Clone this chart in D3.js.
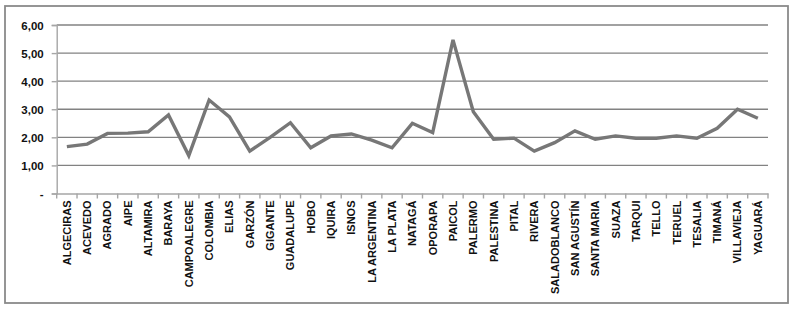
<!DOCTYPE html>
<html><head><meta charset="utf-8">
<script src="https://cdn.jsdelivr.net/npm/d3@7"></script>
<style>body{margin:0;background:#fff}svg{display:block}</style>
</head><body>
<svg id="c" width="794" height="310"></svg>
<script>
const categories = ["ALGECIRAS","ACEVEDO","AGRADO","AIPE","ALTAMIRA","BARAYA","CAMPOALEGRE","COLOMBIA","ELIAS","GARZÓN","GIGANTE","GUADALUPE","HOBO","IQUIRA","ISNOS","LA ARGENTINA","LA PLATA","NATAGÁ","OPORAPA","PAICOL","PALERMO","PALESTINA","PITAL","RIVERA","SALADOBLANCO","SAN AGUSTÍN","SANTA MARIA","SUAZA","TARQUI","TELLO","TERUEL","TESALIA","TIMANÁ","VILLAVIEJA","YAGUARÁ"];
const values = [1.67,1.76,2.14,2.15,2.2,2.8,1.35,3.33,2.73,1.51,2.0,2.52,1.63,2.05,2.12,1.9,1.63,2.5,2.17,5.47,2.91,1.93,1.97,1.51,1.81,2.23,1.93,2.05,1.97,1.97,2.05,1.97,2.32,3.0,2.68];
const yTicks = [0,1,2,3,4,5,6];
const yTickLabels = ["-","1,00","2,00","3,00","4,00","5,00","6,00"];

const svg = d3.select("#c");
const L = 56.7, R = 768, T = 25, B = 193.5;
const x = d3.scaleBand().domain(categories).range([L, R]);
const y = d3.scaleLinear().domain([0, 6]).range([B, T]);
const font = "'Liberation Sans', Arial, sans-serif";

// outer border
svg.append("rect").attr("x",5).attr("y",6).attr("width",783).attr("height",297)
  .attr("fill","none").attr("stroke","#8a8a8a").attr("stroke-width",1.8);

// gridlines
svg.append("g").selectAll("line").data(yTicks.filter(d=>d>0)).join("line")
  .attr("x1",L).attr("x2",R).attr("y1",d=>y(d)).attr("y2",d=>y(d))
  .attr("stroke","#828282").attr("stroke-width",1.4);

// y axis
const yAxis = d3.axisLeft(y).tickValues(yTicks).tickSize(5).tickFormat((d,i)=>yTickLabels[i]);
const gy = svg.append("g").attr("transform",`translate(${L},0)`).call(yAxis);
gy.select(".domain").attr("stroke","#a6a6a6").attr("stroke-width",1.4);
gy.selectAll(".tick line").attr("stroke","#a6a6a6").attr("stroke-width",1.4);
gy.selectAll(".tick text").attr("x",-13).attr("dy","0.35em")
  .style("font-family",font).style("font-weight","bold")
  .style("font-size","11.5px").attr("fill","#111");

// x axis
const gx = svg.append("g").attr("transform",`translate(0,${B})`)
  .call(d3.axisBottom(x).tickSize(0).tickSizeOuter(0));
gx.select(".domain").attr("stroke","#a6a6a6").attr("stroke-width",1.4);
gx.selectAll(".tick text")
  .attr("transform","rotate(-90)").attr("text-anchor","end")
  .attr("x",-7).attr("y",0).attr("dy","0.36em")
  .style("font-family",font).style("font-weight","bold")
  .style("font-size","11px").attr("fill","#111");
// boundary ticks
const bounds = categories.map(c=>x(c)).concat([R]);
svg.append("g").selectAll("line").data(bounds).join("line")
  .attr("x1",d=>d).attr("x2",d=>d).attr("y1",B).attr("y2",B+5)
  .attr("stroke","#a6a6a6").attr("stroke-width",1.4);

// line
const line = d3.line().x((d,i)=>x(categories[i])+x.bandwidth()/2).y(d=>y(d));
svg.append("path").datum(values).attr("d",line).attr("fill","none")
  .attr("stroke","#777777").attr("stroke-width",3.4).attr("stroke-linejoin","miter");
</script>
</body></html>
